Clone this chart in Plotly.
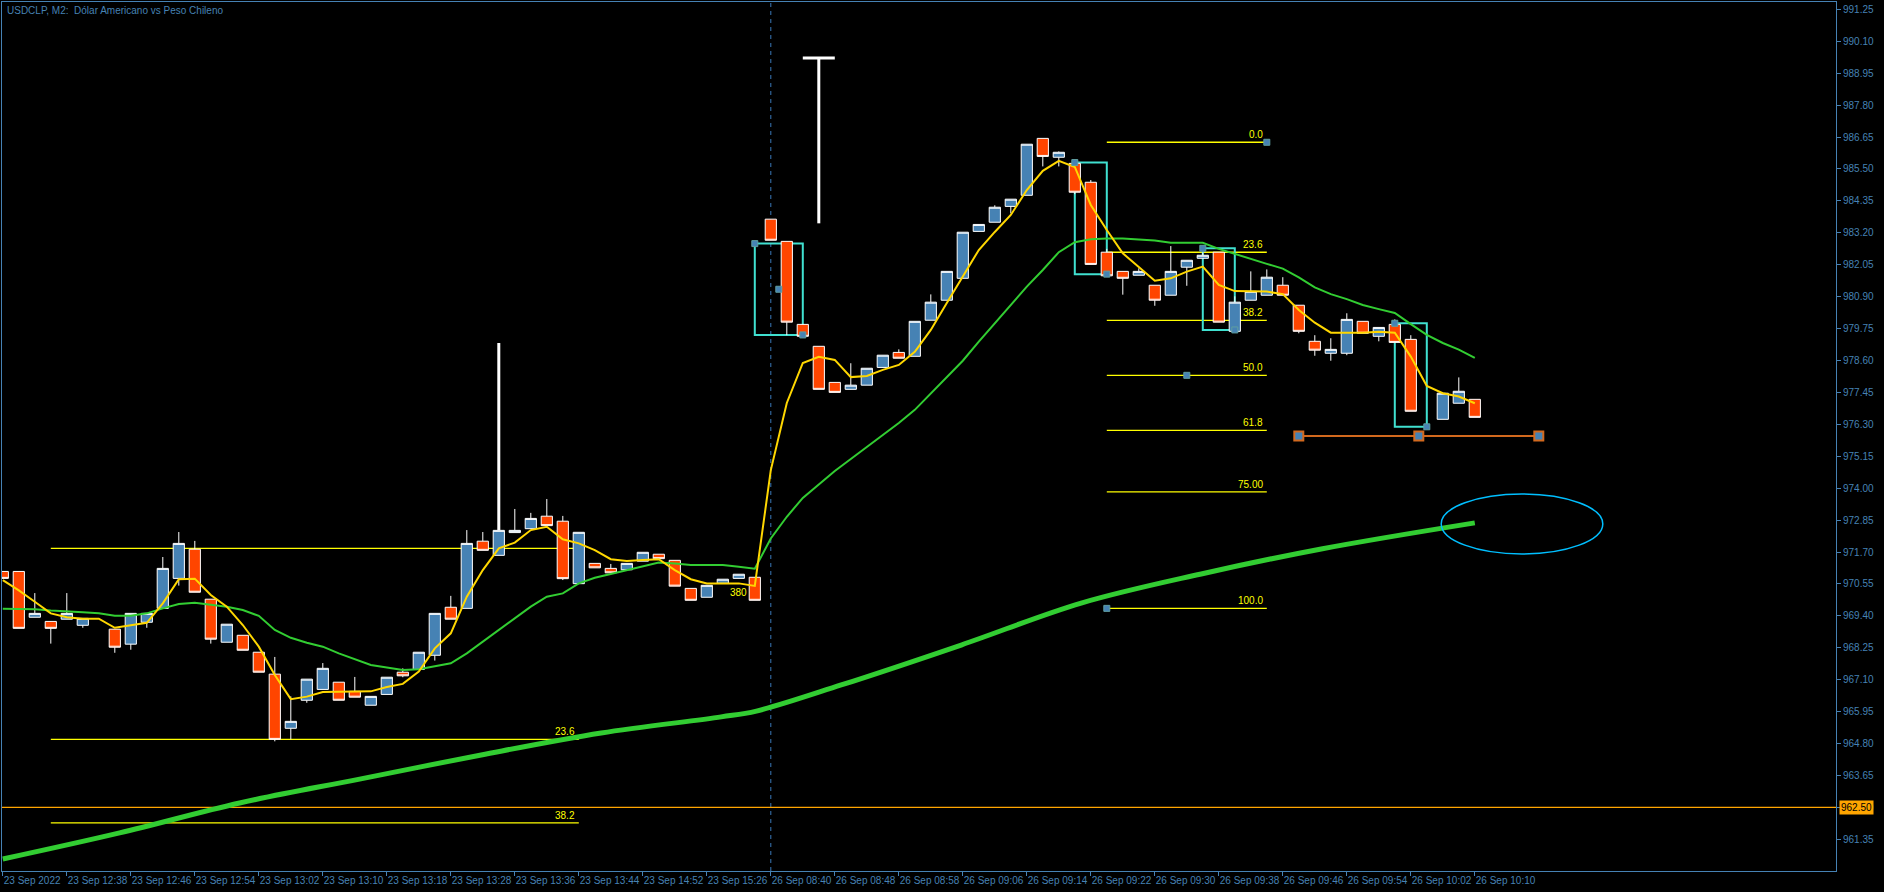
import plotly.graph_objects as go

# ---------------- data ----------------
bars = [0, 1, 2, 3, 4, 5, 7, 8, 9, 10, 11, 12, 13, 14, 15, 16, 17, 18, 19, 20,
        21, 22, 23, 24, 25, 26, 27, 28, 29, 30, 31, 32, 33, 34, 35, 36, 37, 38, 39, 40,
        41, 42, 43, 44, 45, 46, 47, 48, 49, 50, 51, 52, 53, 54, 55, 56, 57, 58, 59, 60,
        61, 62, 63, 64, 65, 66, 67, 68, 69, 70, 71, 72, 73, 74, 75, 76, 77, 78, 79, 80,
        81, 82, 83, 84, 85, 86, 87, 88, 90, 91, 92]
opens = [971.00, 971.00, 969.35, 969.20, 969.28, 969.06, 968.92, 968.38, 969.17, 969.67,
         970.75, 971.80, 970.00, 968.45, 968.70, 968.09, 967.30, 965.35, 966.36, 966.75,
         967.01, 966.68, 966.18, 966.57, 967.37, 967.47, 967.98, 969.71, 969.67, 972.09,
         971.58, 972.40, 972.54, 972.99, 972.81, 970.56, 971.29, 971.11, 971.06, 971.37,
         971.62, 971.40, 970.39, 970.07, 970.57, 970.75, 970.79, 983.69, 982.89, 979.90,
         979.11, 977.81, 977.56, 977.71, 978.35, 978.89, 978.75, 980.05, 980.77, 981.56,
         983.25, 983.58, 984.15, 984.55, 986.60, 985.92, 985.70, 985.02, 982.50, 981.81,
         981.67, 981.31, 980.95, 981.96, 982.28, 982.50, 979.65, 980.77, 980.95, 981.31,
         980.59, 979.29, 978.86, 978.86, 980.01, 979.47, 979.90, 979.36, 976.48, 977.06,
         977.20]
highs = [971.00, 971.00, 970.22, 969.20, 970.22, 969.31, 968.92, 969.49, 969.49, 971.52,
         972.42, 972.10, 970.00, 969.10, 968.70, 968.09, 967.92, 966.50, 967.12, 967.70,
         967.01, 967.20, 966.50, 967.19, 967.51, 968.09, 969.49, 970.12, 972.49, 972.42,
         972.48, 973.25, 973.11, 973.61, 973.00, 972.41, 971.29, 971.27, 971.29, 971.69,
         971.62, 971.40, 970.39, 970.50, 970.72, 970.90, 970.79, 983.69, 982.89, 979.90,
         979.11, 977.81, 978.50, 978.32, 978.79, 979.00, 980.01, 980.98, 981.81, 983.22,
         983.50, 984.19, 984.41, 986.39, 986.60, 986.13, 985.70, 985.10, 982.62, 981.81,
         981.92, 981.31, 982.72, 982.21, 982.50, 982.50, 980.91, 981.81, 981.88, 981.60,
         980.59, 979.51, 979.40, 980.30, 980.01, 979.79, 980.08, 979.51, 977.42, 977.99,
         977.20]
lows = [970.75, 968.95, 969.35, 968.40, 969.28, 968.97, 968.07, 968.18, 968.97, 969.67,
        970.49, 970.25, 968.40, 968.45, 968.16, 967.37, 964.88, 964.95, 966.27, 966.75,
        966.36, 966.47, 966.18, 966.57, 967.19, 967.47, 967.79, 969.28, 969.67, 971.76,
        971.58, 972.40, 972.54, 972.65, 970.69, 970.56, 971.13, 970.95, 971.06, 971.37,
        971.46, 970.47, 969.96, 970.07, 970.57, 970.75, 969.96, 982.93, 979.51, 979.47,
        977.56, 977.45, 977.56, 977.71, 978.35, 978.68, 978.75, 980.05, 980.77, 981.56,
        983.25, 983.58, 983.90, 984.55, 985.59, 985.59, 984.59, 982.06, 981.65, 980.97,
        981.67, 980.57, 980.95, 981.29, 982.28, 979.98, 979.65, 980.77, 980.95, 980.95,
        979.58, 978.77, 978.59, 978.79, 979.58, 979.29, 979.25, 976.77, 976.48, 977.06,
        976.55]
closes = [970.75, 968.95, 969.49, 968.95, 969.49, 969.31, 968.27, 969.49, 969.49, 971.11,
          972.01, 970.25, 968.56, 969.10, 968.16, 967.37, 964.95, 965.60, 967.12, 967.51,
          966.36, 966.47, 966.50, 967.19, 967.24, 968.09, 969.49, 969.28, 972.01, 971.76,
          972.48, 972.48, 972.91, 972.65, 970.74, 972.41, 971.13, 970.95, 971.29, 971.69,
          971.46, 970.47, 969.96, 970.50, 970.72, 970.90, 969.96, 982.93, 979.98, 979.47,
          977.56, 977.45, 977.71, 978.32, 978.79, 978.68, 980.01, 980.70, 981.81, 983.22,
          983.50, 984.12, 984.41, 986.39, 985.95, 986.10, 984.66, 982.06, 981.65, 981.56,
          981.81, 980.77, 981.81, 982.21, 982.39, 979.98, 980.70, 981.09, 981.60, 980.95,
          979.65, 978.97, 979.00, 980.08, 979.58, 979.79, 979.25, 976.77, 977.42, 977.49,
          976.55]

# moving averages (one value per bar 0..92)
ma_fast = [970.69, 970.32, 969.91, 969.49, 969.35, 969.30, 969.30, 968.97, 969.06, 969.15,
           969.85, 970.72, 970.74, 970.15, 969.73, 969.07, 968.29, 967.27, 966.40, 966.49,
           966.66, 966.66, 966.66, 966.68, 966.84, 966.95, 967.39, 968.23, 968.77, 970.09,
           971.05, 971.83, 972.04, 972.49, 972.61, 972.16, 972.01, 971.77, 971.44, 971.38,
           971.41, 971.44, 971.05, 970.72, 970.57, 970.57, 970.57, 970.48, 974.65, 977.07,
           978.51, 978.73, 978.62, 978.00, 978.04, 978.26, 978.44, 978.91, 979.70, 980.67,
           981.61, 982.58, 983.23, 983.84, 984.74, 985.43, 985.79, 985.57, 984.20, 983.30,
           982.46, 981.98, 981.47, 981.56, 981.80, 981.98, 981.32, 981.10, 981.08, 981.08,
           980.99, 980.42, 979.96, 979.60, 979.60, 979.60, 979.63, 979.60, 978.74, 977.68,
           977.42, 977.30, 977.06]
ma_mid = [969.66, 969.66, 969.64, 969.59, 969.57, 969.53, 969.49, 969.40, 969.40, 969.49,
          969.67, 969.83, 969.87, 969.80, 969.73, 969.61, 969.40, 968.89, 968.61, 968.43,
          968.29, 968.05, 967.84, 967.63, 967.54, 967.45, 967.48, 967.59, 967.69, 968.05,
          968.47, 968.89, 969.29, 969.73, 970.09, 970.21, 970.57, 970.77, 970.91, 971.05,
          971.20, 971.32, 971.29, 971.23, 971.23, 971.23, 971.17, 971.10, 972.19, 972.97,
          973.65, 974.15, 974.62, 975.05, 975.48, 975.92, 976.35, 976.82, 977.42, 978.02,
          978.59, 979.28, 979.94, 980.60, 981.26, 981.86, 982.50, 982.86, 982.97, 982.99,
          982.99, 982.96, 982.92, 982.84, 982.84, 982.84, 982.62, 982.44, 982.24, 982.08,
          981.91, 981.59, 981.23, 980.99, 980.81, 980.60, 980.45, 980.31, 979.91, 979.52,
          979.23, 978.99, 978.69]
ma_slow_bars = [0, 7.3, 14.8, 22.3, 29.9, 37.4, 44.9, 47.1, 52.4, 59.9, 67.4, 74.9, 82.4, 92]
ma_slow = [960.64, 961.58, 962.66, 963.52, 964.39, 965.18, 965.76, 965.97, 966.91, 968.35,
           969.86, 970.91, 971.81, 972.75]

tick_bars = list(range(0, 93, 4))
tick_text = ["23 Sep 2022", "23 Sep 12:38", "23 Sep 12:46", "23 Sep 12:54", "23 Sep 13:02",
             "23 Sep 13:10", "23 Sep 13:18", "23 Sep 13:28", "23 Sep 13:36", "23 Sep 13:44",
             "23 Sep 14:52", "23 Sep 15:26", "26 Sep 08:40", "26 Sep 08:48", "26 Sep 08:58",
             "26 Sep 09:06", "26 Sep 09:14", "26 Sep 09:22", "26 Sep 09:30", "26 Sep 09:38",
             "26 Sep 09:46", "26 Sep 09:54", "26 Sep 10:02", "26 Sep 10:10"]
price_ticks = [991.25 - 1.15 * i for i in range(27)]

title_text = "USDCLP, M2:  Dólar Americano vs Peso Chileno"
hline_price = 962.50
day_sep_bar = 48

# right Fibonacci retracement
fib_hi, fib_lo = 986.46, 969.67
fib_bar0, fib_bar1 = 69, 79
fib_levels = [0, 23.6, 38.2, 50, 61.8, 75, 100]
fib_labels = ["0.0", "23.6", "38.2", "50.0", "61.8", "75.00", "100.0"]
# left Fibonacci levels
lfib_bar0, lfib_bar1 = 3, 36
lfib_prices = [971.83, 964.95, 961.94]
lfib_labels = ["", "23.6", "38.2"]

# rectangles (bar from, bar to, price low, price high)
rects = [(47, 50, 979.52, 982.81), (67, 69, 981.71, 985.73),
         (75, 77, 979.70, 982.64), (87, 89, 976.21, 979.94)]
# white drawn lines
spike = (31, 972.48, 979.23)
tee = (51, 983.54, 989.50, 50, 52)
# orange-red horizontal trend line
trend_price = 975.88
trend_bars = [81, 88.5, 96]
# ellipse
ell = (89.9, 100.0, 971.63, 973.79)

# ---------------- figure ----------------
BLUE = "#4682B4"
RED = "#FF4500"
AX = "#4682B4"

fig = go.Figure()

fig.add_trace(go.Scatter(x=ma_slow_bars, y=ma_slow, mode="lines",
                         line=dict(color="#32CD32", width=5, shape="spline"),
                         hoverinfo="skip"))
fig.add_trace(go.Scatter(x=list(range(len(ma_mid))), y=ma_mid, mode="lines",
                         line=dict(color="#32CD32", width=2), hoverinfo="skip"))
fig.add_trace(go.Scatter(x=list(range(len(ma_fast))), y=ma_fast, mode="lines",
                         line=dict(color="#FFD700", width=2), hoverinfo="skip"))

# anchor squares of objects (drawn below candles)
anc_x = [r[0] for r in rects] + [r[1] for r in rects] + [(rects[0][0] + rects[0][1]) / 2,
                                                          fib_bar1, (fib_bar0 + fib_bar1) / 2, fib_bar0]
anc_y = [r[3] for r in rects] + [r[2] for r in rects] + [(rects[0][2] + rects[0][3]) / 2,
                                                          fib_hi, (fib_hi + fib_lo) / 2, fib_lo]
fig.add_trace(go.Scatter(x=anc_x, y=anc_y, mode="markers",
                         marker=dict(symbol="square", size=6, color=BLUE,
                                     line=dict(color="#5F9EA0", width=1)),
                         hoverinfo="skip"))

fig.add_trace(go.Candlestick(
    x=bars, open=opens, high=highs, low=lows, close=closes,
    increasing=dict(fillcolor=BLUE, line=dict(color="white", width=1)),
    decreasing=dict(fillcolor=RED, line=dict(color="white", width=1)),
    whiskerwidth=0, hoverinfo="skip"))

fig.add_trace(go.Scatter(x=trend_bars, y=[trend_price] * len(trend_bars), mode="lines+markers",
                         line=dict(color="#D2691E", width=2),
                         marker=dict(symbol="square", size=9, color=BLUE,
                                     line=dict(color="#D2691E", width=2)),
                         hoverinfo="skip"))

shapes = []
shapes.append(dict(type="line", xref="x", yref="paper", x0=day_sep_bar, x1=day_sep_bar,
                   y0=0, y1=1, line=dict(color="#3A78B8", width=1, dash="4px,4px"), layer="below"))
shapes.append(dict(type="line", xref="paper", yref="y", x0=0, x1=1, y0=hline_price,
                   y1=hline_price, line=dict(color="#FFA500", width=1.2), layer="below"))
for lv in fib_levels:
    p = fib_hi - (fib_hi - fib_lo) * lv / 100.0
    shapes.append(dict(type="line", xref="x", yref="y", x0=fib_bar0, x1=fib_bar1, y0=p, y1=p,
                       line=dict(color="#FFFF00", width=1.3), layer="below"))
for p in lfib_prices:
    shapes.append(dict(type="line", xref="x", yref="y", x0=lfib_bar0, x1=lfib_bar1, y0=p, y1=p,
                       line=dict(color="#FFFF00", width=1.3), layer="below"))
for b0, b1, lo, hi in rects:
    shapes.append(dict(type="rect", xref="x", yref="y", x0=b0, x1=b1, y0=lo, y1=hi,
                       line=dict(color="#40E0D0", width=2), layer="below"))
shapes.append(dict(type="line", xref="x", yref="y", x0=spike[0], x1=spike[0], y0=spike[1],
                   y1=spike[2], line=dict(color="white", width=3), layer="below"))
shapes.append(dict(type="line", xref="x", yref="y", x0=tee[0], x1=tee[0], y0=tee[1],
                   y1=tee[2], line=dict(color="white", width=3), layer="below"))
shapes.append(dict(type="line", xref="x", yref="y", x0=tee[3], x1=tee[4], y0=tee[2],
                   y1=tee[2], line=dict(color="white", width=3), layer="below"))
shapes.append(dict(type="circle", xref="x", yref="y", x0=ell[0], x1=ell[1], y0=ell[2], y1=ell[3],
                   line=dict(color="#00BFFF", width=1.5)))

annotations = []
FONT = "Liberation Sans, Arial, sans-serif"
for lv, lab in zip(fib_levels, fib_labels):
    p = fib_hi - (fib_hi - fib_lo) * lv / 100.0
    annotations.append(dict(x=fib_bar1 - 0.1, y=p, xref="x", yref="y", text=lab, showarrow=False,
                            xanchor="right", yanchor="bottom", yshift=0,
                            font=dict(family=FONT, size=10, color="#FFFF00")))
for p, lab in zip(lfib_prices, lfib_labels):
    if lab:
        annotations.append(dict(x=lfib_bar1 - 0.1, y=p, xref="x", yref="y", text=lab, showarrow=False,
                                xanchor="right", yanchor="bottom",
                                font=dict(family=FONT, size=10, color="#FFFF00")))
annotations.append(dict(x=45.95, y=970.24, xref="x", yref="y", text="380", showarrow=False,
                        font=dict(family=FONT, size=10, color="#FFFF00")))
annotations.append(dict(x=0, y=1, xref="paper", yref="paper", text=title_text, showarrow=False,
                        xanchor="left", yanchor="top", xshift=3, yshift=-1,
                        font=dict(family=FONT, size=10, color=AX)))
annotations.append(dict(x=1, y=hline_price, xref="paper", yref="y", text="962.50", showarrow=False,
                        xanchor="left", yanchor="middle", xshift=3, bgcolor="#FFA500",
                        borderpad=1, font=dict(family=FONT, size=10, color="black")))

fig.update_layout(
    width=1884, height=892,
    paper_bgcolor="black", plot_bgcolor="black",
    margin=dict(l=2, r=48, t=2, b=21, pad=0, autoexpand=False),
    showlegend=False, boxgap=0.3, boxgroupgap=0,
    shapes=shapes, annotations=annotations,
    xaxis=dict(range=[-0.05, 114.575], tickmode="array", tickvals=tick_bars, ticktext=tick_text,
               ticks="outside", ticklen=4, tickcolor=AX, showline=True, linecolor=AX, linewidth=1,
               mirror=True, showgrid=False, zeroline=False, rangeslider=dict(visible=False),
               ticklabelposition="outside right", tickangle=0, automargin=False,
               tickfont=dict(family=FONT, size=10, color=AX)),
    yaxis=dict(range=[960.209, 991.513], side="right", tickmode="array", tickvals=price_ticks,
               ticktext=["%.2f" % v for v in price_ticks], ticks="outside", ticklen=4,
               tickcolor=AX, showline=True, linecolor=AX, linewidth=1, mirror=True, automargin=False,
               showgrid=False, zeroline=False, tickfont=dict(family=FONT, size=10, color=AX)),
)

fig.write_html("out.html", config={"displayModeBar": False},
               post_script="document.body.style.margin='0';document.body.style.background='black';")
